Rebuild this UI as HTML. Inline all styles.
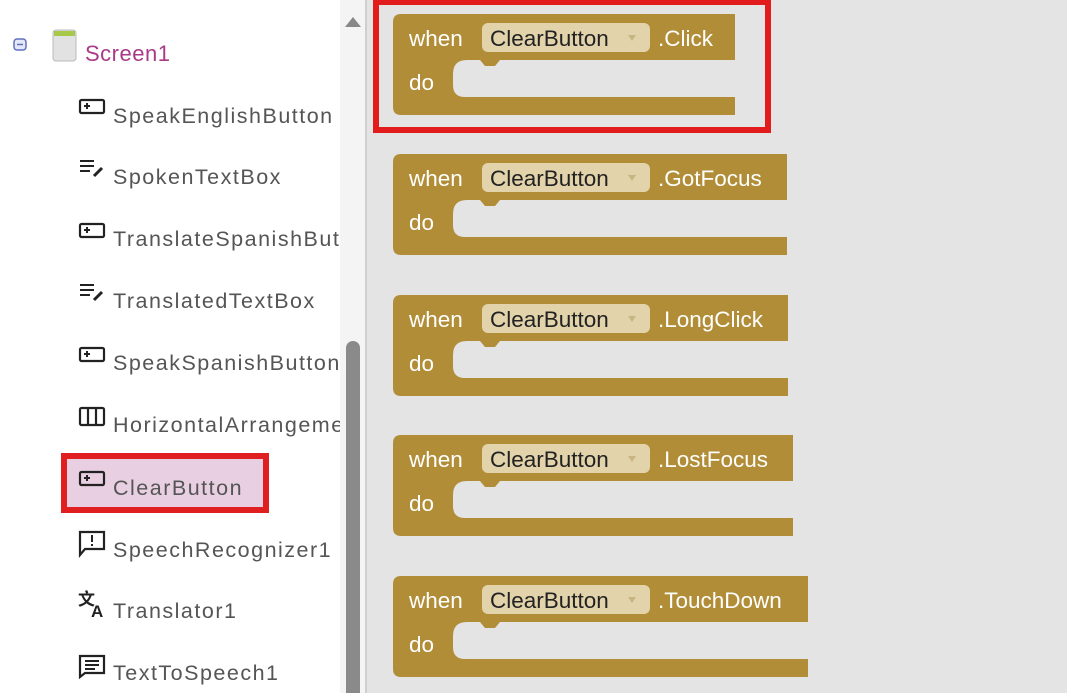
<!DOCTYPE html>
<html><head><meta charset="utf-8"><style>
body{margin:0;width:1067px;height:693px;overflow:hidden;background:#fff;font-family:"Liberation Sans",sans-serif}
svg{display:block}
</style></head><body>
<svg width="1067" height="693" viewBox="0 0 1067 693" xmlns="http://www.w3.org/2000/svg">
<defs><clipPath id="lc"><rect x="0" y="0" width="340" height="693"/></clipPath></defs>
<rect x="0" y="0" width="1067" height="693" fill="#fff"/>
<rect x="340" y="0" width="26" height="693" fill="#f4f4f4"/>
<rect x="365" y="0" width="2" height="693" fill="#cfcfcf"/>
<rect x="367" y="0" width="700" height="693" fill="#e4e4e4"/>
<polygon points="345,27 353,17 361,27" fill="#888"/>
<rect x="346" y="341" width="14" height="360" rx="7" fill="#8a8a8a"/>

<!-- tree -->
<rect x="14" y="39" width="12" height="11" rx="3" fill="#e4e8f6" stroke="#6070c0" stroke-width="1.5"/>
<line x1="17" y1="44.5" x2="23" y2="44.5" stroke="#6070c0" stroke-width="1.5"/>
<rect x="53" y="30" width="23" height="31" rx="3" fill="#e2e2e2" stroke="#bbb" stroke-width="1"/>
<rect x="54" y="31" width="21" height="5" fill="#a8c848"/>
<text x="85" y="61" font-size="22" fill="#a83a88" letter-spacing="0.5">Screen1</text>

<rect x="64" y="456" width="202" height="54" fill="#e8cfe1" stroke="#e02020" stroke-width="6"/>
<g font-size="21.5" fill="#555" letter-spacing="1.5" clip-path="url(#lc)">
<text x="113" y="123">SpeakEnglishButton</text>
<text x="113" y="184">SpokenTextBox</text>
<text x="113" y="246">TranslateSpanishButton</text>
<text x="113" y="308">TranslatedTextBox</text>
<text x="113" y="370">SpeakSpanishButton</text>
<text x="113" y="432">HorizontalArrangement1</text>
<text x="113" y="495">ClearButton</text>
<text x="113" y="557">SpeechRecognizer1</text>
<text x="113" y="618">Translator1</text>
<text x="113" y="680">TextToSpeech1</text>
</g>
<g fill="none" stroke="#222" stroke-width="2.2">
<rect x="80" y="100" width="24" height="13" rx="1.5"/>
<rect x="80" y="224" width="24" height="13" rx="1.5"/>
<rect x="80" y="348" width="24" height="13" rx="1.5"/>
<rect x="80" y="472" width="24" height="13" rx="1.5"/>
<rect x="80" y="408" width="24" height="17" rx="1.5"/>
<line x1="88" y1="408" x2="88" y2="425"/><line x1="96" y1="408" x2="96" y2="425"/>
<path d="M80 555 V532 H104 V549 H85 Z"/>
</g>
<g stroke="#222" stroke-width="2">
<line x1="84" y1="106" x2="90" y2="106"/><line x1="87" y1="103" x2="87" y2="109"/>
<line x1="84" y1="230" x2="90" y2="230"/><line x1="87" y1="227" x2="87" y2="233"/>
<line x1="84" y1="354" x2="90" y2="354"/><line x1="87" y1="351" x2="87" y2="357"/>
<line x1="84" y1="478" x2="90" y2="478"/><line x1="87" y1="475" x2="87" y2="481"/>
<line x1="80" y1="161" x2="94" y2="161"/><line x1="80" y1="166" x2="94" y2="166"/><line x1="80" y1="171" x2="90" y2="171"/>
<line x1="80" y1="285" x2="94" y2="285"/><line x1="80" y1="290" x2="94" y2="290"/><line x1="80" y1="295" x2="90" y2="295"/>
<line x1="94" y1="176" x2="102" y2="168" stroke-width="3"/>
<line x1="94" y1="300" x2="102" y2="292" stroke-width="3"/>
<line x1="92" y1="535" x2="92" y2="542"/><line x1="92" y1="544" x2="92" y2="546"/>
<path d="M80 677 V656 H104 V673 H85 Z" fill="none" stroke-width="2.2"/>
<line x1="85" y1="661" x2="99" y2="661"/><line x1="85" y1="665" x2="99" y2="665"/><line x1="85" y1="669" x2="95" y2="669"/>
</g>
<text x="78" y="605" font-size="17" font-weight="bold" fill="#222" font-family="Noto Sans CJK SC,sans-serif">文</text>
<text x="91" y="617" font-size="17" font-weight="bold" fill="#222">A</text>

<!-- blocks -->
<g font-size="22.5">
<g transform="translate(0,14)">
<path d="M401 0 H735 V46 H500 l-5 6 h-10 l-5 -6 H467 q-14 0 -14 14 V71 q0 12 12 12 H735 V101 H401 q-8 0 -8 -8 V8 q0 -8 8 -8 Z" fill="#b18d37"/>
<rect x="482" y="9" width="168" height="29" rx="6" fill="#e2d3ab"/>
<text x="409" y="32" fill="#fff">when</text><text x="490" y="32" fill="#222">ClearButton</text>
<polygon points="628,21 636,21 632,27" fill="#c8b582"/>
<text x="658" y="32" fill="#fff">.Click</text><text x="409" y="76" fill="#fff">do</text>
</g>
<g transform="translate(0,154)">
<path d="M401 0 H787 V46 H500 l-5 6 h-10 l-5 -6 H467 q-14 0 -14 14 V71 q0 12 12 12 H787 V101 H401 q-8 0 -8 -8 V8 q0 -8 8 -8 Z" fill="#b18d37"/>
<rect x="482" y="9" width="168" height="29" rx="6" fill="#e2d3ab"/>
<text x="409" y="32" fill="#fff">when</text><text x="490" y="32" fill="#222">ClearButton</text>
<polygon points="628,21 636,21 632,27" fill="#c8b582"/>
<text x="658" y="32" fill="#fff">.GotFocus</text><text x="409" y="76" fill="#fff">do</text>
</g>
<g transform="translate(0,295)">
<path d="M401 0 H788 V46 H500 l-5 6 h-10 l-5 -6 H467 q-14 0 -14 14 V71 q0 12 12 12 H788 V101 H401 q-8 0 -8 -8 V8 q0 -8 8 -8 Z" fill="#b18d37"/>
<rect x="482" y="9" width="168" height="29" rx="6" fill="#e2d3ab"/>
<text x="409" y="32" fill="#fff">when</text><text x="490" y="32" fill="#222">ClearButton</text>
<polygon points="628,21 636,21 632,27" fill="#c8b582"/>
<text x="658" y="32" fill="#fff">.LongClick</text><text x="409" y="76" fill="#fff">do</text>
</g>
<g transform="translate(0,435)">
<path d="M401 0 H793 V46 H500 l-5 6 h-10 l-5 -6 H467 q-14 0 -14 14 V71 q0 12 12 12 H793 V101 H401 q-8 0 -8 -8 V8 q0 -8 8 -8 Z" fill="#b18d37"/>
<rect x="482" y="9" width="168" height="29" rx="6" fill="#e2d3ab"/>
<text x="409" y="32" fill="#fff">when</text><text x="490" y="32" fill="#222">ClearButton</text>
<polygon points="628,21 636,21 632,27" fill="#c8b582"/>
<text x="658" y="32" fill="#fff">.LostFocus</text><text x="409" y="76" fill="#fff">do</text>
</g>
<g transform="translate(0,576)">
<path d="M401 0 H808 V46 H500 l-5 6 h-10 l-5 -6 H467 q-14 0 -14 14 V71 q0 12 12 12 H808 V101 H401 q-8 0 -8 -8 V8 q0 -8 8 -8 Z" fill="#b18d37"/>
<rect x="482" y="9" width="168" height="29" rx="6" fill="#e2d3ab"/>
<text x="409" y="32" fill="#fff">when</text><text x="490" y="32" fill="#222">ClearButton</text>
<polygon points="628,21 636,21 632,27" fill="#c8b582"/>
<text x="658" y="32" fill="#fff">.TouchDown</text><text x="409" y="76" fill="#fff">do</text>
</g>
</g>
<rect x="376" y="2" width="392" height="128" fill="none" stroke="#e21c1c" stroke-width="6"/>
</svg>
</body></html>
